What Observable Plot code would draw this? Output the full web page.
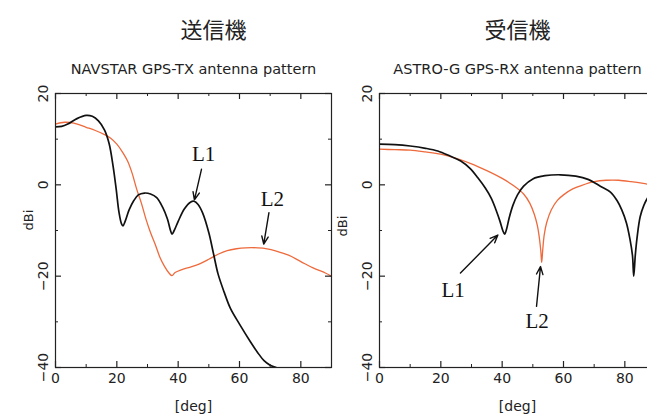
<!DOCTYPE html>
<html><head><meta charset="utf-8">
<script src="https://cdn.jsdelivr.net/npm/d3@7"></script>
<script src="https://cdn.jsdelivr.net/npm/@observablehq/plot@0.6"></script>
<style>
html,body{margin:0;padding:0;background:#fff;overflow:hidden;}
#wrap{position:relative;width:647px;height:419px;overflow:hidden;background:#fff;}
</style></head><body><div id="wrap"></div>
<script>
// ---- data ----
const xTicks = [0, 20, 40, 60, 80];
const xMinor = [10, 30, 50, 70];
const yTicks = [-40, -20, 0, 20];
const yMinor = [-30, -10, 10];

const titles = ["送信機", "受信機"];
const subtitles = ["NAVSTAR GPS-TX antenna pattern", "ASTRO-G GPS-RX antenna pattern"];

// [angle deg, gain dBi]
const txL1 = [[0,12.7],[2,12.8],[4,13.3],[7,14.5],[10,15.2],[12,15],[14,14],[16,12],[17.5,9],[18.8,4],[19.8,-1],[20.7,-6],[21.5,-8.5],[22,-9],[22.7,-8],[24,-5.5],[25.5,-3.5],[27,-2.2],[29,-1.8],[31,-2],[33,-2.8],[35,-5],[36.5,-7.5],[37.5,-10],[38,-10.8],[38.7,-10],[40,-8],[42,-5.3],[44,-3.8],[45.2,-3.6],[46.5,-4.3],[48,-6.2],[50,-10.5],[51.5,-15],[53,-19.5],[55,-23.5],[57,-27],[60,-30.5],[63.5,-34.3],[66,-36.8],[68,-38.5],[70,-39.5],[72,-40]];
const txL2 = [[0,13.3],[3,13.7],[6,13.5],[10,12.6],[13,11.9],[16,11],[18,10.2],[20,8.9],[22,7],[23.5,5.2],[25,2.5],[26.5,-1],[28,-4],[29.5,-7.5],[31,-10.5],[32.5,-13],[34,-15.8],[35.5,-17.8],[37,-19.3],[38,-19.9],[39,-19.2],[41,-18.6],[44,-18],[47,-17.3],[50,-16.3],[53,-15.2],[56,-14.4],[59,-14],[62,-13.8],[66,-13.8],[69,-14],[72,-14.5],[76,-15.4],[80,-16.8],[84,-18.2],[88,-19.3],[90,-20]];
const rxL1 = [[0,8.9],[5,8.8],[10,8.5],[15,8],[19,7.4],[23,6.3],[26.5,5.2],[29.5,3.6],[32,1.6],[34.5,-0.7],[36.5,-3],[38,-5.5],[39.3,-8],[40.2,-10],[40.8,-10.8],[41.4,-9.8],[42.3,-7.2],[43.5,-4.5],[45,-2.2],[47,-0.3],[50,1.3],[54,2],[59,2.2],[64,1.9],[68,1.2],[72,-0.3],[75.3,-1.6],[77.5,-3.5],[79,-5.5],[80.5,-8.3],[81.7,-12],[82.5,-15.5],[82.9,-20],[83.4,-15.5],[84,-11.5],[85,-7],[86.2,-4.5],[87.5,-2.8],[90,-0.8]];
const rxL2 = [[0,7.8],[5,7.7],[10,7.6],[15,7.2],[20,6.7],[25,5.8],[30,4.6],[35,3.1],[40,1.4],[44,-0.3],[47,-2],[49,-4],[50.5,-6.5],[51.5,-9],[52.2,-12],[52.6,-14.5],[52.9,-17],[53.2,-14.5],[53.7,-11],[54.5,-8.3],[56,-5.5],[58,-3.4],[60,-2.2],[63,-0.9],[66,-0.1],[70,0.7],[74,1],[78,1],[82,0.7],[86,0.3],[90,-0.2]];

// annotations: label, text position, arrow start, arrow tip
const txLabels = [{t:"L1", x:48.3, y:6.8}, {t:"L2", x:70.7, y:-3.1}];
const txArrows = [{x1:47.6, y1:3.4, x2:45.3, y2:-3.3}, {x1:69.6, y1:-6.1, x2:67.9, y2:-13}];
const rxLabels = [{t:"L1", x:24, y:-23.1}, {t:"L2", x:51.4, y:-29.9}];
const rxArrows = [{x1:26.4, y1:-19.3, x2:38.6, y2:-11}, {x1:51.2, y1:-26.6, x2:52.5, y2:-17.9}];

const BLACK = "#111", RED = "#ee6a3c";

function panel(o) {
  const W = o.width, H = 419;
  const fw = W - o.ml - o.mr, fh = H - 93 - 52;
  const svg = Plot.plot({
    width: W, height: H,
    marginLeft: o.ml, marginRight: o.mr, marginTop: 93, marginBottom: 52,
    style: {fontFamily: "DejaVu Sans", fontSize: "14px", background: "transparent", color: "#222"},
    x: {domain: [0, 90]},
    y: {domain: [-40, 20]},
    marks: [
      Plot.line(o.l2, {x: d => d[0], y: d => d[1], stroke: RED, strokeWidth: 1.3, curve: "catmull-rom", clip: true}),
      Plot.line(o.l1, {x: d => d[0], y: d => d[1], stroke: BLACK, strokeWidth: 1.7, curve: "catmull-rom", clip: true}),
      Plot.frame({stroke: "#222", strokeWidth: 1.2}),
      Plot.tickX(xTicks, {x: d => d, insetTop: fh - 6, stroke: "#222", strokeWidth: 1.2}),
      Plot.tickX(xMinor, {x: d => d, insetTop: fh - 3, stroke: "#222"}),
      Plot.tickX(xTicks, {x: d => d, insetBottom: fh - 6, stroke: "#222", strokeWidth: 1.2}),
      Plot.tickX(xMinor, {x: d => d, insetBottom: fh - 3, stroke: "#222"}),
      Plot.tickY(yTicks, {y: d => d, insetRight: fw - 6, stroke: "#222", strokeWidth: 1.2}),
      Plot.tickY(yMinor, {y: d => d, insetRight: fw - 3, stroke: "#222"}),
      Plot.tickY(yTicks, {y: d => d, insetLeft: fw - 6, stroke: "#222", strokeWidth: 1.2}),
      Plot.tickY(yMinor, {y: d => d, insetLeft: fw - 3, stroke: "#222"}),
      Plot.axisX(xTicks, {tickSize: 0, tickPadding: 6, label: null, fontSize: 14}),
      Plot.axisY(yTicks, {tickSize: 0, tickRotate: -90, tickPadding: 8, label: null, fontSize: 14}),
      Plot.text(["[deg]"], {frameAnchor: "bottom", dy: 43, fontSize: 14}),
      Plot.text(["dBi"], {frameAnchor: "left", dx: o.dbiDx, dy: o.dbiDy, rotate: -90, fontSize: 13}),
      Plot.text([o.title], {frameAnchor: "top", dx: o.titleDx, dy: -71, fontSize: 22, fontFamily: "Noto Sans CJK JP"}),
      Plot.text([o.subtitle], {frameAnchor: "top", dy: -30, fontSize: 14.5}),
      Plot.arrow(o.arrows, {x1: "x1", y1: "y1", x2: "x2", y2: "y2", stroke: BLACK, strokeWidth: 1.4, headLength: 9, headAngle: 45}),
      Plot.text(o.labels, {x: "x", y: "y", text: "t", fontFamily: "Liberation Serif", fontSize: 21, fill: "#111"})
    ]
  });
  svg.style.position = "absolute";
  svg.style.left = o.left + "px";
  svg.style.top = "0px";
  svg.style.maxWidth = "none";
  document.getElementById("wrap").appendChild(svg);
}

panel({left: 0, width: 335, ml: 55, mr: 4, l1: txL1, l2: txL2, title: titles[0], subtitle: subtitles[0], titleDx: 20, dbiDx: -27, dbiDy: 0, arrows: txArrows, labels: txLabels});
panel({left: 335, width: 335, ml: 44, mr: 15, l1: rxL1, l2: rxL2, title: titles[1], subtitle: subtitles[1], titleDx: 0, dbiDx: -37, dbiDy: 6, arrows: rxArrows, labels: rxLabels});
</script></body></html>
